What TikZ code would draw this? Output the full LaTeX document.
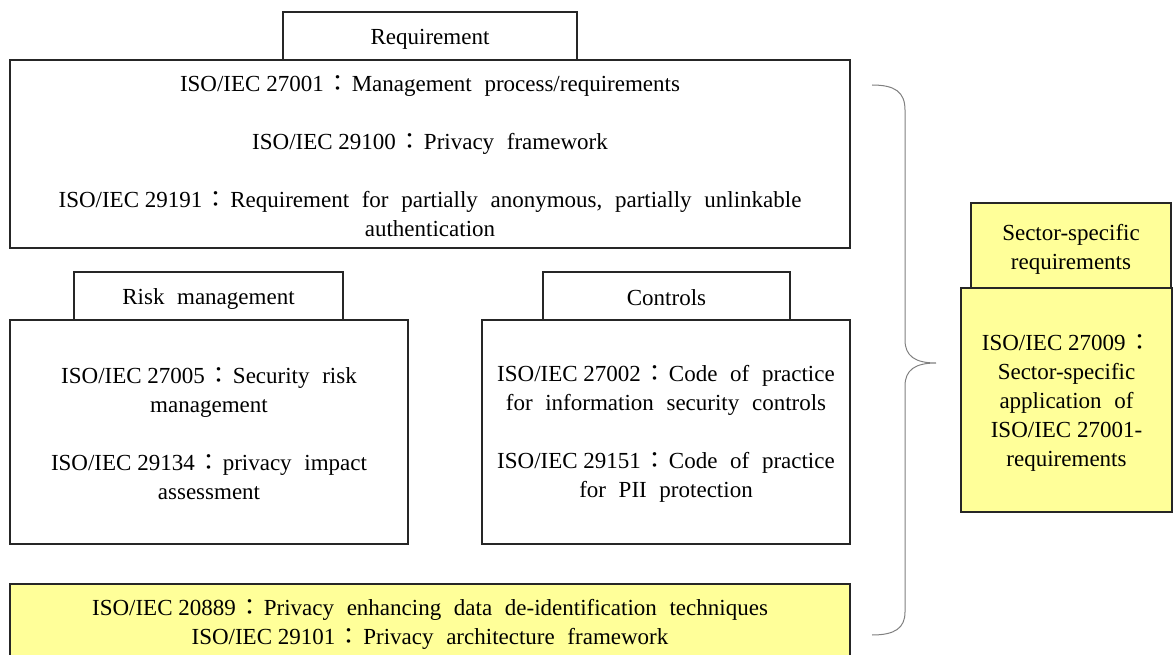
\documentclass[tikz,border=0pt]{standalone}
\usepackage{fontspec}
\setmainfont[WordSpace=2.2]{Liberation Serif}
\newfontfamily\cjk{Noto Sans CJK TC}
% standard number followed by a full-width colon
\newcommand{\iso}[1]{ISO/IEC\hspace{0.25em}#1\hspace{2.5pt}{\cjk ：}\hspace{2.5pt}}
\tikzset{
  x=1pt, y=-1pt,
  box/.style={draw=black!85, line width=1.1pt, rectangle, inner sep=0pt},
  ybox/.style={box, fill=yfill},
  txt/.style={align=center, inner sep=0pt, text=black,
    font=\fontsize{23}{29}\selectfont},
}
\definecolor{yfill}{HTML}{FFFF99}
\definecolor{bracegray}{HTML}{808080}
\begin{document}
\begin{tikzpicture}
\useasboundingbox (0,0) rectangle (1173,655);
% top block: requirements
\node[box, minimum width=294pt, minimum height=48pt] (reqtab) at (430,36) {};
\node[txt] (reqtab-t) at ([yshift=-3pt]reqtab.center) {Requirement};
\node[box, minimum width=840pt, minimum height=188pt] (req) at (430,154) {};
\node[txt] (req-t) at ([yshift=-2pt]req.center) {%
\iso{27001}Management process/requirements\\[29pt]
\iso{29100}Privacy framework\\[29pt]
\iso{29191}Requirement for partially anonymous, partially unlinkable\\
authentication};
% middle left: risk management
\node[box, minimum width=269pt, minimum height=48pt] (risktab) at (208.5,296) {};
\node[txt] (risktab-t) at ([yshift=-3pt]risktab.center) {Risk management};
\node[box, minimum width=398pt, minimum height=224pt] (risk) at (209,432) {};
\node[txt] (risk-t) at ([yshift=-2pt]risk.center) {%
\iso{27005}Security risk\\
management\\[29pt]
\iso{29134}privacy impact\\
assessment};
% middle right: controls
\node[box, minimum width=247pt, minimum height=48pt] (ctltab) at (666.5,296) {};
\node[txt] (ctltab-t) at ([yshift=-2pt]ctltab.center) {Controls};
\node[box, minimum width=368pt, minimum height=224pt] (ctl) at (666,432) {};
\node[txt] (ctl-t) at ([yshift=-2pt]ctl.center) {%
\iso{27002}Code of practice\\
for information security controls\\[29pt]
\iso{29151}Code of practice\\
for PII protection};
% bottom block
\node[ybox, minimum width=840pt, minimum height=75pt] (pet) at (430,621.5) {};
\node[txt] (pet-t) at ([yshift=-3pt]pet.center) {%
\iso{20889}Privacy enhancing data de-identification techniques\\
\iso{29101}Privacy architecture framework};
% sector-specific block on the right
\node[ybox, minimum width=200pt, minimum height=85pt] (sectab) at (1071,245.5) {};
\node[txt] (sectab-t) at ([yshift=-4pt]sectab.center) {Sector-specific\\requirements};
\node[ybox, minimum width=211pt, minimum height=224pt] (sec) at (1066.5,400) {};
\node[txt] (sec-t) at ([yshift=-3pt]sec.center) {%
\iso{27009}\\
Sector-specific\\
application of\\
ISO/IEC\hspace{0.25em}27001-\\
requirements};
% curly brace grouping the left-hand standards
\draw[bracegray, line width=1pt]
  (872,85) .. controls (895,85) and (905,92) .. (905,110)
  -- (905,340) .. controls (905,356) and (915,363) .. (936,363)
  .. controls (915,363) and (905,370) .. (905,386)
  -- (905,612) .. controls (905,628) and (895,635) .. (872,635);
\end{tikzpicture}
\end{document}
